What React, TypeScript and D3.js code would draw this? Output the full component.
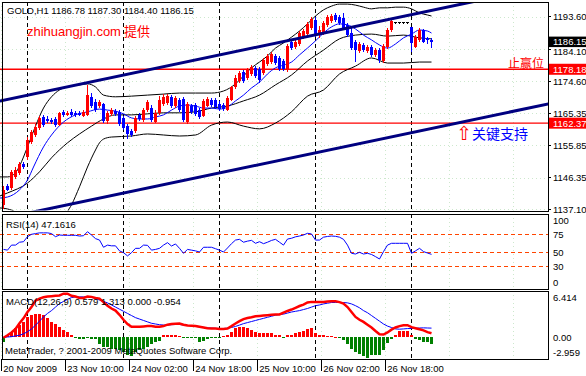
import React from 'react';
import * as d3 from 'd3';

const W = 586, H = 376;

const open = [1138.4,1144.0,1143.4,1146.6,1147.8,1150.4,1152.5,1156.9,1158.9,1161.0,
1164.2,1163.6,1163.3,1163.6,1161.8,1165.7,1164.8,1165.7,1165.4,1165.4,
1164.5,1164.8,1170.1,1168.6,1167.4,1168.0,1163.0,1165.1,1165.9,1165.7,
1163.9,1161.5,1160.1,1160.1,1164.8,1163.3,1166.2,1166.8,1162.7,1165.4,
1168.0,1168.3,1170.1,1167.4,1169.2,1169.5,1162.7,1167.4,1167.7,1166.2,
1164.5,1167.4,1169.2,1169.2,1168.0,1167.7,1166.2,1169.2,1173.0,1174.7,
1177.4,1175.6,1176.8,1178.6,1178.3,1177.1,1179.7,1180.3,1182.1,1181.5,
1180.6,1178.0,1186.2,1184.7,1185.6,1187.6,1188.5,1190.3,1192.6,1188.2,
1188.8,1191.2,1192.3,1194.1,1193.5,1193.2,1191.2,1188.8,1186.2,1183.5,
1185.3,1183.5,1184.7,1182.4,1183.8,1180.6,1184.7,1189.7,1191.8,1191.8,
1191.8,1191.8,1190.6,1184.7,1186.8,1189.7,1187.4,1186.78];
const high = [1144.0,1144.5,1148.6,1149.5,1151.0,1151.0,1158.3,1160.4,1162.1,1164.5,
1164.8,1164.5,1163.9,1164.2,1165.7,1166.2,1165.9,1166.5,1165.9,1165.9,
1166.2,1173.6,1171.2,1169.5,1169.2,1168.3,1165.9,1166.8,1166.5,1166.2,
1164.5,1162.1,1160.7,1164.5,1165.4,1166.8,1169.2,1167.7,1166.2,1170.3,
1170.9,1170.9,1170.6,1170.3,1169.8,1170.1,1168.6,1168.0,1168.3,1166.8,
1169.5,1170.1,1169.8,1169.8,1168.9,1168.3,1170.3,1173.3,1176.5,1177.7,
1178.0,1178.6,1179.4,1179.1,1178.9,1181.5,1182.7,1183.3,1182.7,1182.1,
1181.2,1185.6,1186.8,1186.8,1189.4,1190.0,1192.0,1193.5,1193.5,1190.9,
1192.3,1194.1,1194.4,1194.7,1194.1,1194.7,1191.8,1190.6,1186.8,1186.2,
1185.9,1185.3,1185.3,1184.4,1184.4,1185.6,1190.3,1192.9,1192.0,1192.0,
1192.0,1192.0,1190.6,1188.2,1190.3,1190.0,1187.6,1187.30];
const low = [1137.2,1142.5,1142.8,1146.0,1147.2,1148.9,1151.6,1156.3,1158.3,1160.4,
1161.3,1162.4,1162.1,1161.3,1161.5,1164.2,1164.5,1164.2,1164.2,1164.5,
1164.2,1164.5,1166.8,1165.7,1166.8,1162.4,1162.1,1164.5,1164.5,1161.5,
1160.4,1157.7,1158.3,1159.5,1163.0,1162.7,1165.7,1162.7,1162.4,1164.8,
1167.4,1167.7,1166.8,1166.8,1165.7,1162.7,1162.1,1165.1,1164.5,1163.6,
1164.2,1167.1,1167.1,1166.5,1165.9,1165.9,1165.9,1168.9,1172.4,1174.2,
1174.2,1175.0,1176.2,1175.6,1174.2,1176.5,1179.1,1179.7,1179.4,1177.7,
1177.7,1177.4,1183.8,1184.1,1185.0,1187.1,1187.9,1189.7,1187.6,1187.4,
1188.2,1190.6,1191.8,1192.0,1191.2,1189.7,1187.6,1183.8,1180.3,1183.0,
1183.3,1183.0,1181.8,1181.8,1180.0,1180.0,1184.1,1189.1,1191.5,1191.5,
1191.5,1191.5,1183.3,1184.4,1186.2,1185.9,1185.6,1184.40];
const close = [1142.8,1142.8,1148.0,1148.6,1150.4,1149.5,1157.4,1159.8,1161.3,1163.9,
1161.8,1163.0,1162.7,1161.8,1165.4,1164.8,1165.4,1164.8,1164.8,1164.8,
1165.7,1170.6,1167.4,1166.2,1168.6,1163.0,1165.4,1166.2,1165.1,1162.1,
1161.0,1159.2,1158.9,1163.9,1163.6,1166.2,1168.6,1163.3,1165.4,1169.2,
1170.1,1170.3,1167.4,1169.8,1166.2,1163.3,1168.0,1165.7,1165.1,1164.2,
1168.9,1169.5,1167.7,1167.1,1166.5,1166.5,1169.8,1173.0,1175.6,1177.1,
1174.7,1178.0,1178.9,1176.2,1175.0,1180.9,1182.1,1182.7,1180.0,1178.3,
1178.3,1185.0,1184.4,1186.2,1188.8,1189.4,1191.5,1192.9,1188.2,1189.7,
1191.8,1193.5,1193.8,1192.6,1191.8,1190.3,1188.2,1184.4,1183.8,1185.6,
1183.8,1184.7,1182.4,1183.8,1180.9,1185.0,1189.7,1192.3,1191.8,1191.8,
1191.8,1191.8,1185.9,1187.6,1189.7,1186.2,1186.8,1186.15];

// Bollinger bands & fast MA, sampled at bar positions
const bbUpperBars = [-0.9,1,3,4,6,8,10,12,14,16,19,21,23,25,28,32,36,40,44,48,52,55,58,60,62,64,66,68,70,72,74,76,78,80,82,84,86,88,90,92,94,96,98,100,102,104,106,107];
const bbUpper = [1146.6,1146.6,1147.8,1149.8,1155.4,1161.5,1166.8,1170.1,1172.1,1173.0,1173.6,1173.9,1173.0,1170.6,1170.1,1170.3,1170.6,1170.9,1171.2,1171.2,1171.2,1171.8,1173.9,1176.2,1178.6,1180.3,1182.1,1184.4,1185.9,1187.6,1189.4,1191.5,1193.8,1195.6,1196.7,1197.3,1197.3,1197.0,1196.4,1195.9,1196.2,1196.2,1196.4,1196.4,1195.9,1194.7,1194.1,1193.8];
const bbMidBars = [-0.9,1,6,9,12,16,19,22,25,28,32,36,40,44,48,52,56,60,64,68,72,76,80,84,88,92,96,100,104,107];
const bbMid = [1141.0,1141.9,1144.8,1148.1,1152.2,1156.6,1159.2,1161.5,1163.6,1164.8,1164.8,1165.1,1165.4,1165.4,1165.7,1166.8,1167.4,1168.9,1170.6,1173.6,1176.5,1180.6,1183.8,1187.1,1188.2,1188.5,1187.9,1188.2,1187.4,1187.1];
const bbLowerBars = [-0.9,1,3,5,8,12,15,16,17,19,21,23,24,25,27,32,36,40,44,48,52,56,60,64,68,72,76,80,84,88,92,96,100,104,107];
const bbLower = [1137.5,1137.2,1136.3,1134.0,1128.1,1126.6,1132.5,1136.3,1138.4,1143.7,1149.5,1154.5,1156.6,1157.7,1158.3,1158.6,1159.2,1158.9,1158.6,1158.9,1161.8,1162.7,1161.5,1160.7,1162.4,1165.7,1170.3,1172.1,1176.8,1179.1,1181.5,1180.0,1180.0,1180.3,1180.3];
const maBars = [-0.9,1,4,6,7.5,10,12,15,18,21,24,26,28,30,32,34,36,38,40,42,44,46,48,50,52,54,56,58,60,62,64,66,68,70,72,74,76,78,80,82,84,86,88,90,92,94,96,98,100,102,104,106,107];
const maFast = [1140.4,1140.7,1142.8,1145.7,1149.5,1155.4,1158.9,1162.7,1164.8,1165.7,1166.5,1166.2,1165.9,1165.1,1163.9,1163.6,1163.6,1164.2,1164.8,1166.2,1167.4,1167.7,1167.4,1166.8,1166.8,1166.5,1167.1,1168.9,1170.6,1172.7,1174.4,1176.8,1178.6,1179.4,1180.3,1182.4,1184.4,1186.5,1188.8,1190.6,1191.5,1191.2,1190.0,1188.2,1186.8,1185.3,1184.4,1185.6,1187.4,1188.5,1189.7,1189.4,1188.8];

const rsi = [54,53,60,60,64,64.7,71.7,75,76,77,
77,77,76,71.7,74,73.6,73.6,73.6,73.6,72.6,
73,78.6,74,69,67,57,60,59,59,52,
49.5,45,49.5,55.5,55.5,60,59.7,53,54,55.5,
60,63.4,58.7,61.6,55.5,48.6,54,53,52,50.4,
57,57,57,55,53,50.4,56,62,67,68,
64,65.5,66.6,62.5,64.7,62,64,66.5,68,64,
60,68.4,69.5,71.5,72.6,74,76.4,75.5,67,67,
71,72,72.6,72.2,71,68,60,48.6,47.6,50,
47.6,48.6,47,44,40.7,51,60,62.5,62.5,62.5,
62.5,62.5,48.6,52,55.5,51,49,47.16];

const macdMain = [-0.05,0.3,0.7,1.2,2.0,2.7,3.6,4.3,5.2,5.5,
5.7,5.8,5.85,5.9,5.95,6.2,6.2,5.9,5.8,5.6,
5.6,5.8,5.75,5.6,5.5,5.0,4.5,4.1,3.8,3.2,
2.5,1.9,1.5,1.5,1.5,1.55,1.6,1.6,1.5,1.5,
1.6,1.8,1.9,1.95,1.97,1.8,1.7,1.65,1.6,1.5,
1.4,1.3,1.26,1.25,1.2,1.2,1.26,1.6,1.97,2.3,
2.6,2.75,2.85,3.0,3.05,3.1,3.15,3.2,3.25,3.25,
3.5,3.75,3.95,4.2,4.45,4.65,4.95,5.04,5.04,5.04,
5.04,5.1,5.14,5.14,5.0,4.8,4.3,3.6,2.9,2.5,
2.2,1.8,1.4,0.9,0.45,0.4,0.7,1.1,1.4,1.6,
1.73,1.73,1.45,1.3,1.15,1.0,0.75,0.579];
const macdSignal = [0.0,0.05,0.1,0.2,0.3,0.5,0.8,1.2,1.73,2.3,
2.9,3.4,3.8,4.3,4.8,5.1,5.4,5.65,5.75,5.75,
5.75,5.75,5.7,5.5,5.3,5.1,4.9,4.6,4.3,4.0,
3.7,3.4,3.1,2.8,2.6,2.4,2.2,2.0,1.9,1.8,
1.75,1.75,1.8,1.83,1.83,1.75,1.7,1.63,1.55,1.5,
1.42,1.36,1.32,1.28,1.26,1.26,1.3,1.4,1.55,1.75,
1.95,2.1,2.25,2.4,2.55,2.7,2.85,3.0,3.15,3.25,
3.3,3.45,3.6,3.7,3.8,3.95,4.1,4.3,4.5,4.6,
4.75,4.85,4.95,4.95,4.95,4.95,4.9,4.75,4.5,4.2,
3.8,3.5,3.1,2.7,2.3,1.9,1.6,1.4,1.2,1.16,
1.2,1.25,1.26,1.3,1.33,1.35,1.33,1.313];
const macdHist = [-0.6,0.3,0.8,1.26,1.7,2.2,2.9,3.15,3.25,3.35,
3.15,2.7,2.2,1.83,1.5,1.0,0.8,0.3,-0.15,-0.2,
-0.2,-0.15,-0.2,-0.3,-0.9,-1.35,-1.35,-1.6,-1.7,-1.8,
-2.06,-2.5,-2.6,-2.06,-1.8,-1.6,-1.35,-0.9,-0.7,-0.45,
0.3,0.4,0.4,0.4,0.2,-0.15,-0.15,-0.15,-0.15,-0.7,
-0.5,-0.2,-0.15,-0.15,-0.15,0.2,0.3,0.8,1.26,1.5,
1.5,1.26,1.0,0.8,0.55,0.55,0.55,0.55,0.4,0.3,
-0.1,0.3,0.4,0.55,0.8,0.9,1.15,1.35,0.55,0.4,
0.3,0.2,0.15,0.08,-0.05,-0.35,-1.0,-1.6,-2.06,-2.4,
-2.67,-2.959,-2.5,-2.5,-2.5,-1.85,-0.87,-0.2,0.3,0.9,
0.95,0.9,0.3,-0.2,-0.35,-0.6,-0.6,-0.954];

const priceTicks = [1193.60, 1184.10, 1174.60, 1165.35, 1155.85, 1146.35, 1137.10];
const rsiTicks = [100, 75, 50, 30, 0];
const rsiLevels = [75, 50, 30];
const macdTicks = [6.414, 0.0, -2.959];
const macdTickText = ['6.414', '0.00', '-2.959'];
const timeLabels = ['20 Nov 2009', '23 Nov 10:00', '24 Nov 02:00', '24 Nov 18:00', '25 Nov 10:00', '26 Nov 02:00', '26 Nov 18:00'];
const timeLabelBars = [0, 16, 32, 48, 64, 80, 96];
const gridBars = [0, 16, 32, 48, 64, 80, 96, 112, 128];
const separatorBars = [6, 30, 54, 78, 102];
const hLines = [1178.18, 1162.37];
const lastPrice = 1186.15;
const trendUpper: [number, number][] = [[0, 1169.08], [100, 1193.72]];
const trendLower: [number, number][] = [[0, 1134.48], [100, 1159.10]];

const LAT = '"Liberation Sans", Arial, sans-serif';
const CJK = '"Noto Sans CJK SC", sans-serif';

const M = { l: 2, r: 548, t: 2, b: 211 };
const R = { t: 214, b: 289 };
const Q = { t: 291, b: 359 };

export default function App() {
  const x = d3.scaleLinear().domain([0, 107]).range([3.5, 431.5]);
  const y = d3.scaleLinear().domain([1137.10, 1193.60]).range([209.3, 16.7]);
  const yr = d3.scaleLinear().domain([0, 100]).range([288.3, 216.3]);
  const ym = d3.scaleLinear().domain([-2.959, 6.414]).range([358.2, 292.2]);

  const bandLine = (bars: number[], vals: number[]) =>
    d3.line<number>().x((_, i) => x(bars[i])).y((v) => y(v)).curve(d3.curveMonotoneX)(vals) || '';
  const rsiPath = d3.line<number>().x((_, i) => x(i)).y((v) => yr(v))(rsi) || '';
  const mainPath = d3.line<number>().x((_, i) => x(i)).y((v) => ym(v))(macdMain) || '';
  const sigPath = d3.line<number>().x((_, i) => x(i)).y((v) => ym(v))(macdSignal) || '';

  const trend = (pts: [number, number][]) => {
    const [[b0, p0], [b1, p1]] = pts;
    const s = (p1 - p0) / (b1 - b0);
    const bA = -2, bB = 140;
    return { x1: x(bA), y1: y(p0 + s * (bA - b0)), x2: x(bB), y2: y(p0 + s * (bB - b0)) };
  };
  const tu = trend(trendUpper), tl = trend(trendLower);

  const clampLabel = (v: number, top: number, bot: number) => Math.min(Math.max(v, top + 6), bot - 6.5);

  // price label baseline; the tick right under the current-price box is nudged below it
  const priceLabelY = (p: number) => {
    const yy = y(p) + 3.5;
    const yl = y(lastPrice);
    if (p !== lastPrice && yy - 8 < yl + 5 && yy > yl) return yl + 13;
    return yy;
  };

  const panelSeparators = (t: number, b: number) =>
    separatorBars.map((bi) => (
      <line key={bi} x1={x(bi) - 0.5} x2={x(bi) - 0.5} y1={t} y2={b} stroke="#000" strokeDasharray="4,3" shapeRendering="crispEdges" />
    ));
  const panelGrid = (t: number, b: number) =>
    gridBars.map((bi) => (
      <line key={'g' + bi} x1={x(bi) - 2} x2={x(bi) - 2} y1={t} y2={b} stroke="#CDE8CD" strokeDasharray="1,3" shapeRendering="crispEdges" />
    ));

  return (
    <svg width={W} height={H} style={{ position: 'fixed', left: 0, top: 0, background: '#fff' }} fontFamily={LAT}>
      <defs>
        <clipPath id="cm"><rect x={0} y={M.t + 0.5} width={M.r} height={M.b - M.t - 1} /></clipPath>
        <clipPath id="cr"><rect x={0} y={R.t + 0.5} width={M.r} height={R.b - R.t - 1} /></clipPath>
        <clipPath id="cq"><rect x={0} y={Q.t + 0.5} width={M.r} height={Q.b - Q.t - 1} /></clipPath>
      </defs>
      <rect width={W} height={H} fill="#fff" />

      {/* ---------- main panel ---------- */}
      <g clipPath="url(#cm)">
        {panelGrid(M.t, M.b)}
        {priceTicks.map((p) => (
          <line key={'hg' + p} x1={0} x2={M.r} y1={Math.round(y(p)) + 0.5} y2={Math.round(y(p)) + 0.5} stroke="#CDE8CD" strokeDasharray="1,3" />
        ))}
        {panelSeparators(M.t, M.b)}
        {hLines.map((p) => (
          <line key={p} x1={0} x2={M.r} y1={y(p)} y2={y(p)} stroke="#FF0000" strokeWidth={1.4} />
        ))}
        <path d={bandLine(bbUpperBars, bbUpper)} fill="none" stroke="#000" strokeWidth={1} />
        <path d={bandLine(bbMidBars, bbMid)} fill="none" stroke="#000" strokeWidth={1} />
        <path d={bandLine(bbLowerBars, bbLower)} fill="none" stroke="#000" strokeWidth={1} />
        <path d={bandLine(maBars, maFast)} fill="none" stroke="#0000FF" strokeWidth={1} />
        {open.map((o, i) => {
          const c = close[i];
          const xc = x(i);
          const doji = Math.abs(o - c) < 0.05;
          const col = doji ? '#000' : c > o ? '#FF0000' : '#0000FF';
          const yTop = y(Math.max(o, c));
          const yBot = y(Math.min(o, c));
          return (
            <g key={i} shapeRendering="crispEdges">
              <line x1={xc} x2={xc} y1={y(high[i])} y2={y(low[i])} stroke={col} strokeWidth={1} />
              {doji ? (
                <line x1={xc - 1.5} x2={xc + 1.5} y1={yTop} y2={yTop} stroke="#000" />
              ) : (
                <rect x={xc - 1.5} y={yTop} width={3} height={Math.max(1, yBot - yTop)} fill={col} />
              )}
            </g>
          );
        })}
        <line {...tu} stroke="#000080" strokeWidth={3} />
        <line {...tl} stroke="#000080" strokeWidth={3} />
      </g>
      <text x={7} y={14} fontSize={9.5} fill="#000">GOLD,H1  1186.78 1187.30 1184.40 1186.15</text>
      <text x={27} y={36} fontSize={13} fill="#FF0000">zhihuangjin.com<tspan fontFamily={CJK} dx={3}>提供</tspan></text>
      <text x={508} y={68} fontSize={12} fill="#FF0000" fontFamily={CJK}>止赢位</text>
      <text x={456} y={140} fontSize={14} fontFamily={CJK}>
        <tspan fill="#FF0000" fontFamily='"DejaVu Sans"' fontSize={19}>⇧</tspan>
        <tspan fill="#0000FF" dy={-1}>关键支持</tspan>
      </text>
      <rect x={M.l} y={M.t} width={M.r - M.l} height={M.b - M.t} fill="none" stroke="#000" strokeWidth={1} shapeRendering="crispEdges" />
      {priceTicks.map((p) => (
        <g key={'pt' + p}>
          <line x1={M.r} x2={M.r + 3} y1={y(p)} y2={y(p)} stroke="#000" shapeRendering="crispEdges" />
          <text x={553} y={priceLabelY(p)} fontSize={9.5} fill="#000">{p.toFixed(2)}</text>
        </g>
      ))}
      <rect x={549} y={y(lastPrice) - 5.5} width={37} height={10.5} fill="#000" />
      <text x={553} y={y(lastPrice) + 3} fontSize={9.5} fill="#fff">{lastPrice.toFixed(2)}</text>
      {hLines.map((p) => (
        <g key={'hb' + p}>
          <rect x={549} y={y(p) - 5.5} width={37} height={11} fill="#FF0000" />
          <text x={553} y={y(p) + 3.5} fontSize={9.5} fill="#fff">{p.toFixed(2)}</text>
        </g>
      ))}

      {/* ---------- RSI panel ---------- */}
      <g clipPath="url(#cr)">
        {panelGrid(R.t, R.b)}
        {panelSeparators(R.t, R.b)}
        {rsiLevels.map((v) => (
          <line key={v} x1={0} x2={M.r} y1={yr(v)} y2={yr(v)} stroke="#FF4500" strokeDasharray="4,3" shapeRendering="crispEdges" />
        ))}
        <path d={rsiPath} fill="none" stroke="#0000FF" strokeWidth={1} />
      </g>
      <rect x={M.l} y={R.t} width={M.r - M.l} height={R.b - R.t} fill="none" stroke="#000" shapeRendering="crispEdges" />
      <text x={6} y={228} fontSize={9.5}>RSI(14) 47.1616</text>
      {rsiTicks.map((v) => (
        <text key={v} x={553} y={clampLabel(yr(v), R.t, R.b) + 3.5} fontSize={9.5}>{v}</text>
      ))}

      {/* ---------- MACD panel ---------- */}
      <g clipPath="url(#cq)">
        {panelGrid(Q.t, Q.b)}
        {panelSeparators(Q.t, Q.b)}
        {macdHist.map((v, i) => (
          <rect key={i} x={x(i) - 1.5} y={Math.min(ym(0), ym(v))} width={3} height={Math.max(1, Math.abs(ym(v) - ym(0)))}
            fill={v >= 0 ? '#FF0000' : '#008000'} shapeRendering="crispEdges" />
        ))}
        <path d={sigPath} fill="none" stroke="#0000FF" strokeWidth={1} />
        <path d={mainPath} fill="none" stroke="#FF0000" strokeWidth={2.5} />
      </g>
      <rect x={M.l} y={Q.t} width={M.r - M.l} height={Q.b - Q.t} fill="none" stroke="#000" shapeRendering="crispEdges" />
      <text x={6} y={305} fontSize={9.5}>MACD(12,26,9) 0.579 1.313 0.000 -0.954</text>
      <text x={5} y={353.5} fontSize={9.5}>MetaTrader, ? 2001-2009 MetaQuotes Software Corp.</text>
      {macdTicks.map((v, k) => (
        <text key={v} x={553} y={clampLabel(ym(v), Q.t, Q.b) + 3.5} fontSize={9.5}>{macdTickText[k]}</text>
      ))}

      {/* ---------- time axis ---------- */}
      {timeLabelBars.map((bi, k) => (
        <g key={bi}>
          <line x1={x(bi) - 2} x2={x(bi) - 2} y1={Q.b} y2={371} stroke="#000" shapeRendering="crispEdges" />
          <text x={x(bi) - 0.3} y={371.5} fontSize={9.5}>{timeLabels[k]}</text>
        </g>
      ))}
    </svg>
  );
}
